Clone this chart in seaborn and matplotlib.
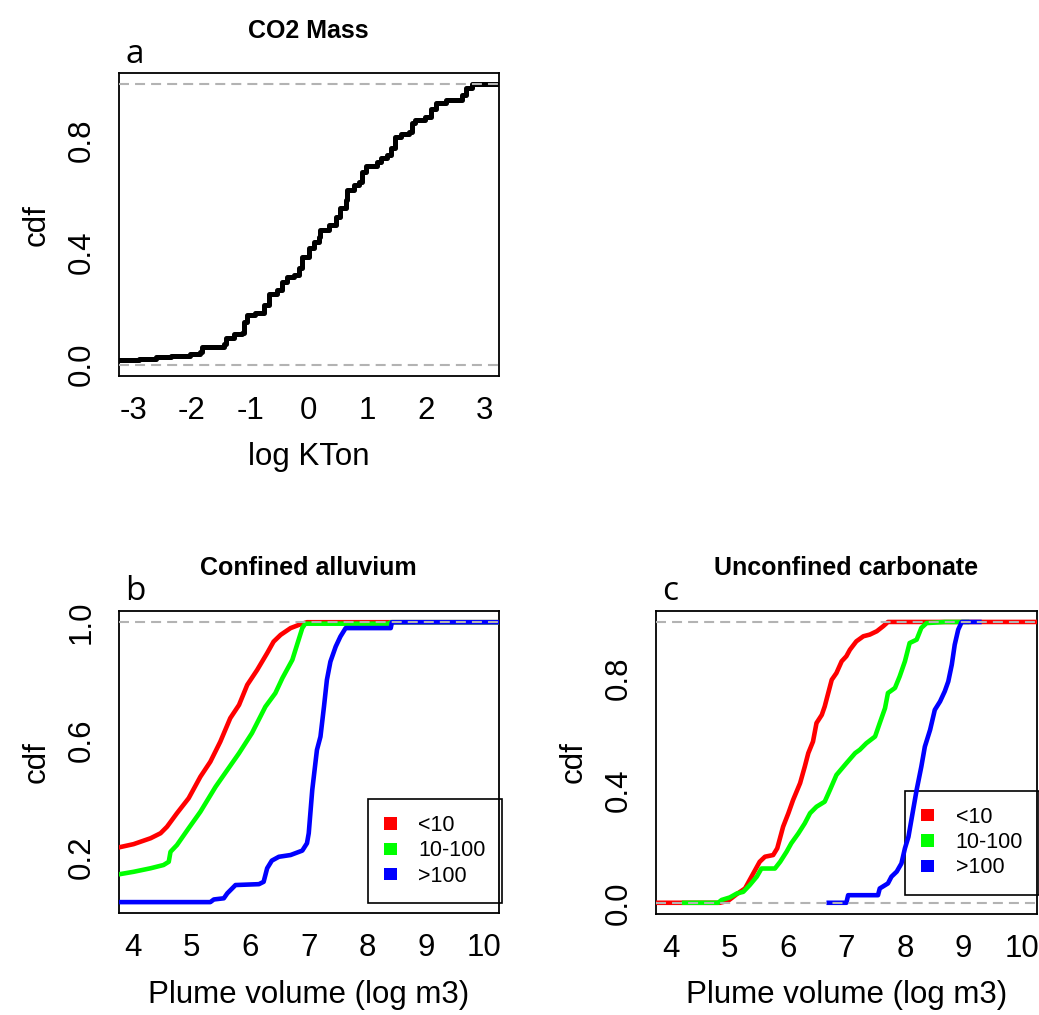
import numpy as np
import pandas as pd
import matplotlib
matplotlib.use("Agg")
import matplotlib.pyplot as plt
from matplotlib.patches import Patch
import seaborn as sns

# ---- Panel a: CO2 mass, empirical CDF knots (log KTon) ----
mass_x = [-3.5, -2.9, -2.6, -2.35, -2.02, -1.85, -1.82, -1.45, -1.41, -1.28,
          -1.14, -1.11, -1.05, -0.91, -0.77, -0.68, -0.54, -0.45, -0.37, -0.26,
          -0.17, -0.11, 0.00, 0.09, 0.17, 0.20, 0.34, 0.46, 0.54, 0.63,
          0.66, 0.77, 0.86, 0.91, 0.97, 1.17, 1.23, 1.34, 1.40, 1.48,
          1.57, 1.71, 1.77, 1.82, 1.99, 2.08, 2.17, 2.34, 2.62, 2.68,
          2.79, 3.5]
mass_cdf = [0.017, 0.022, 0.027, 0.031, 0.038, 0.046, 0.064, 0.073, 0.094, 0.109,
            0.114, 0.153, 0.177, 0.183, 0.213, 0.254, 0.266, 0.296, 0.314, 0.320,
            0.344, 0.385, 0.415, 0.439, 0.457, 0.480, 0.498, 0.528, 0.558, 0.587,
            0.623, 0.641, 0.653, 0.688, 0.709, 0.724, 0.736, 0.748, 0.772, 0.813,
            0.823, 0.831, 0.861, 0.873, 0.885, 0.914, 0.932, 0.944, 0.962, 0.986,
            1.0, 1.0]

# ---- Panel b: confined alluvium, plume volume CDF by mass class ----
alluv_lt10_x = [3.6, 4.01, 4.30, 4.47, 4.58, 4.75, 4.95, 5.15, 5.32, 5.49,
                5.66, 5.81, 5.95, 6.12, 6.29, 6.40, 6.52, 6.69, 6.86, 6.97, 10.5]
alluv_lt10_y = [0.228, 0.246, 0.266, 0.283, 0.305, 0.351, 0.402, 0.475, 0.526, 0.594,
                0.674, 0.719, 0.787, 0.838, 0.895, 0.934, 0.957, 0.980, 0.993, 1.0, 1.0]

alluv_mid_x = [3.6, 4.01, 4.30, 4.52, 4.61, 4.64, 4.75, 4.95, 5.15, 5.41,
               5.61, 5.81, 6.03, 6.26, 6.43, 6.55, 6.72, 6.80, 6.89, 6.94,
               8.37, 8.40, 10.5]
alluv_mid_y = [0.138, 0.152, 0.164, 0.175, 0.186, 0.220, 0.243, 0.300, 0.356, 0.441,
               0.498, 0.555, 0.623, 0.713, 0.759, 0.810, 0.872, 0.923, 0.980, 0.995,
               0.995, 1.0, 1.0]

alluv_hi_x = [3.6, 5.32, 5.38, 5.55, 5.61, 5.75, 6.15, 6.23, 6.29, 6.37,
              6.49, 6.69, 6.89, 6.97, 7.00, 7.06, 7.14, 7.20, 7.26, 7.31,
              7.37, 7.46, 7.54, 7.63, 8.40, 8.42, 10.5]
alluv_hi_y = [0.049, 0.049, 0.058, 0.062, 0.079, 0.107, 0.110, 0.118, 0.164, 0.190,
              0.203, 0.209, 0.224, 0.249, 0.283, 0.430, 0.566, 0.611, 0.713, 0.804,
              0.866, 0.917, 0.951, 0.980, 0.980, 1.0, 1.0]

# ---- Panel c: unconfined carbonate ----
carb_lt10_x = [3.6, 4.84, 4.98, 5.13, 5.27, 5.38, 5.52, 5.61, 5.75, 5.82,
               5.92, 6.01, 6.09, 6.21, 6.29, 6.35, 6.43, 6.49, 6.58, 6.63,
               6.75, 6.83, 6.92, 7.00, 7.06, 7.17, 7.29, 7.40, 7.52, 7.63,
               7.71, 10.5]
carb_lt10_y = [0.0, 0.0, 0.007, 0.031, 0.051, 0.093, 0.146, 0.164, 0.170, 0.194,
               0.271, 0.319, 0.366, 0.426, 0.485, 0.533, 0.574, 0.640, 0.669, 0.699,
               0.794, 0.818, 0.860, 0.878, 0.901, 0.931, 0.949, 0.955, 0.967, 0.985,
               1.0, 1.0]

carb_mid_x = [4.19, 4.81, 4.87, 5.01, 5.13, 5.24, 5.35, 5.47, 5.55, 5.78,
              5.87, 5.98, 6.06, 6.18, 6.29, 6.38, 6.49, 6.63, 6.72, 6.83,
              7.00, 7.15, 7.23, 7.34, 7.49, 7.57, 7.66, 7.71, 7.83, 7.91,
              8.00, 8.08, 8.20, 8.28, 8.37, 8.68, 9.1]
carb_mid_y = [0.0, 0.0, 0.010, 0.019, 0.033, 0.039, 0.063, 0.093, 0.122, 0.122,
              0.146, 0.182, 0.212, 0.247, 0.283, 0.319, 0.342, 0.360, 0.402, 0.455,
              0.497, 0.533, 0.545, 0.568, 0.592, 0.640, 0.693, 0.747, 0.765, 0.806,
              0.860, 0.925, 0.937, 0.979, 0.996, 1.0, 1.0]

carb_hi_x = [6.66, 7.00, 7.03, 7.54, 7.57, 7.71, 7.77, 7.86, 7.94, 8.00,
             8.06, 8.11, 8.20, 8.28, 8.34, 8.43, 8.51, 8.60, 8.68, 8.74,
             8.80, 8.85, 8.91, 8.97, 9.31]
carb_hi_y = [0.0, 0.0, 0.027, 0.027, 0.051, 0.069, 0.093, 0.111, 0.140, 0.194,
             0.235, 0.295, 0.402, 0.485, 0.556, 0.616, 0.687, 0.717, 0.753, 0.788,
             0.848, 0.919, 0.973, 1.0, 1.0]

class_labels = ["<10", "10-100", ">100"]
class_colors = ["#FF0000", "#00FF00", "#0000FF"]

mass_xticks = [-3, -2, -1, 0, 1, 2, 3]
vol_xticks = [4, 5, 6, 7, 8, 9, 10]

# ---- style ----
sns.set_style("white")
plt.rcParams["font.family"] = ["Liberation Sans", "DejaVu Sans"]
plt.rcParams["axes.linewidth"] = 1.3
plt.rcParams["text.color"] = "black"
plt.rcParams["axes.labelcolor"] = "black"
plt.rcParams["xtick.color"] = "black"
plt.rcParams["ytick.color"] = "black"

FS = 22.5
fig = plt.figure(figsize=(10.39, 10.15), dpi=100)
ax_a = fig.add_axes([0.1145, 0.6296, 0.3653, 0.2983])
ax_b = fig.add_axes([0.1145, 0.1002, 0.3653, 0.2981])
ax_c = fig.add_axes([0.6314, 0.0995, 0.3664, 0.2988])


def draw_cdf(ax, xs, ys, color, lw, steps=False):
    df = pd.DataFrame({"x": xs, "y": ys})
    sns.lineplot(data=df, x="x", y="y", ax=ax, color=color, linewidth=lw,
                 estimator=None, sort=False,
                 drawstyle="steps-post" if steps else "default",
                 solid_joinstyle="round", solid_capstyle="butt", zorder=3)


def style_axes(ax, title, letter, xlabel, xticks, xlim, ylim, yticks, ylabels):
    ax.set_xlim(*xlim)
    ax.set_ylim(*ylim)
    ax.set_xticks(xticks)
    ax.set_xticklabels([str(t) for t in xticks])
    ax.set_yticks(yticks)
    ax.set_yticklabels(ylabels)
    for sp in ax.spines.values():
        sp.set_visible(True)
        sp.set_color("black")
        sp.set_linewidth(1.3)
    ax.tick_params(axis="both", direction="out", length=8.6, width=1.1,
                   color="black", labelsize=FS, labelcolor="black")
    ax.tick_params(axis="x", pad=5.5)
    ax.tick_params(axis="y", pad=7.4, labelrotation=90)
    for lab in ax.get_yticklabels():
        lab.set_va("center")
    ax.set_xlabel(xlabel, fontsize=FS, labelpad=12, color="black")
    ax.set_ylabel("cdf", fontsize=FS, labelpad=11, color="black")
    ax.set_title(title, fontsize=18, fontweight="bold", pad=25.5, color="black")
    ax.text(0.017, 1.035, letter, transform=ax.transAxes, fontsize=24,
            family=["Open Sans", "DejaVu Sans"], va="baseline", ha="left",
            color="black")
    for h in (0.0, 1.0):
        ax.axhline(h, color="#B3B3B3", linewidth=1.5,
                   linestyle=(0, (4.8, 2.9)), zorder=5)
    ax.grid(False)


# Panel a
draw_cdf(ax_a, mass_x, mass_cdf, "black", 3.6, steps=True)
style_axes(ax_a, "CO2 Mass", "a", "log KTon", mass_xticks, (-3.24, 3.24),
           (-0.04, 1.04), [0, 0.2, 0.4, 0.6, 0.8, 1.0],
           ["0.0", "", "0.4", "", "0.8", ""])

# Panel b
for xs, ys, col in zip([alluv_lt10_x, alluv_mid_x, alluv_hi_x],
                       [alluv_lt10_y, alluv_mid_y, alluv_hi_y], class_colors):
    draw_cdf(ax_b, xs, ys, col, 3.3)
style_axes(ax_b, "Confined alluvium", "b", "Plume volume (log m3)", vol_xticks,
           (3.76, 10.24), (0.011, 1.039), [0.2, 0.4, 0.6, 0.8, 1.0],
           ["0.2", "", "0.6", "", "1.0"])

# Panel c
for xs, ys, col in zip([carb_lt10_x, carb_mid_x, carb_hi_x],
                       [carb_lt10_y, carb_mid_y, carb_hi_y], class_colors):
    draw_cdf(ax_c, xs, ys, col, 3.3)
style_axes(ax_c, "Unconfined carbonate", "c", "Plume volume (log m3)", vol_xticks,
           (3.75, 10.25), (-0.04, 1.04), [0, 0.2, 0.4, 0.6, 0.8, 1.0],
           ["0.0", "", "0.4", "", "0.8", ""])

# Legends with filled squares; unfilled boxes sit beneath the curves
handles = [Patch(facecolor=c, edgecolor="none", label=l)
           for c, l in zip(class_colors, class_labels)]
for ax, anchor in ((ax_b, (0.655, 0.378)), (ax_c, (0.654, 0.4065))):
    leg = ax.legend(handles=handles, loc="upper left", bbox_to_anchor=anchor,
                    borderaxespad=0, fontsize=15.5, frameon=True, fancybox=False,
                    borderpad=0.75, labelspacing=0.2, handlelength=0.6,
                    handleheight=0.5, handletextpad=1.0)
    frame = leg.get_frame()
    frame.set_alpha(None)
    frame.set_facecolor("none")
    frame.set_edgecolor("black")
    frame.set_linewidth(1.2)
    for t in leg.get_texts():
        t.set_color("black")
    leg.set_zorder(2)

fig.savefig("out.png", dpi=100, facecolor="white")
